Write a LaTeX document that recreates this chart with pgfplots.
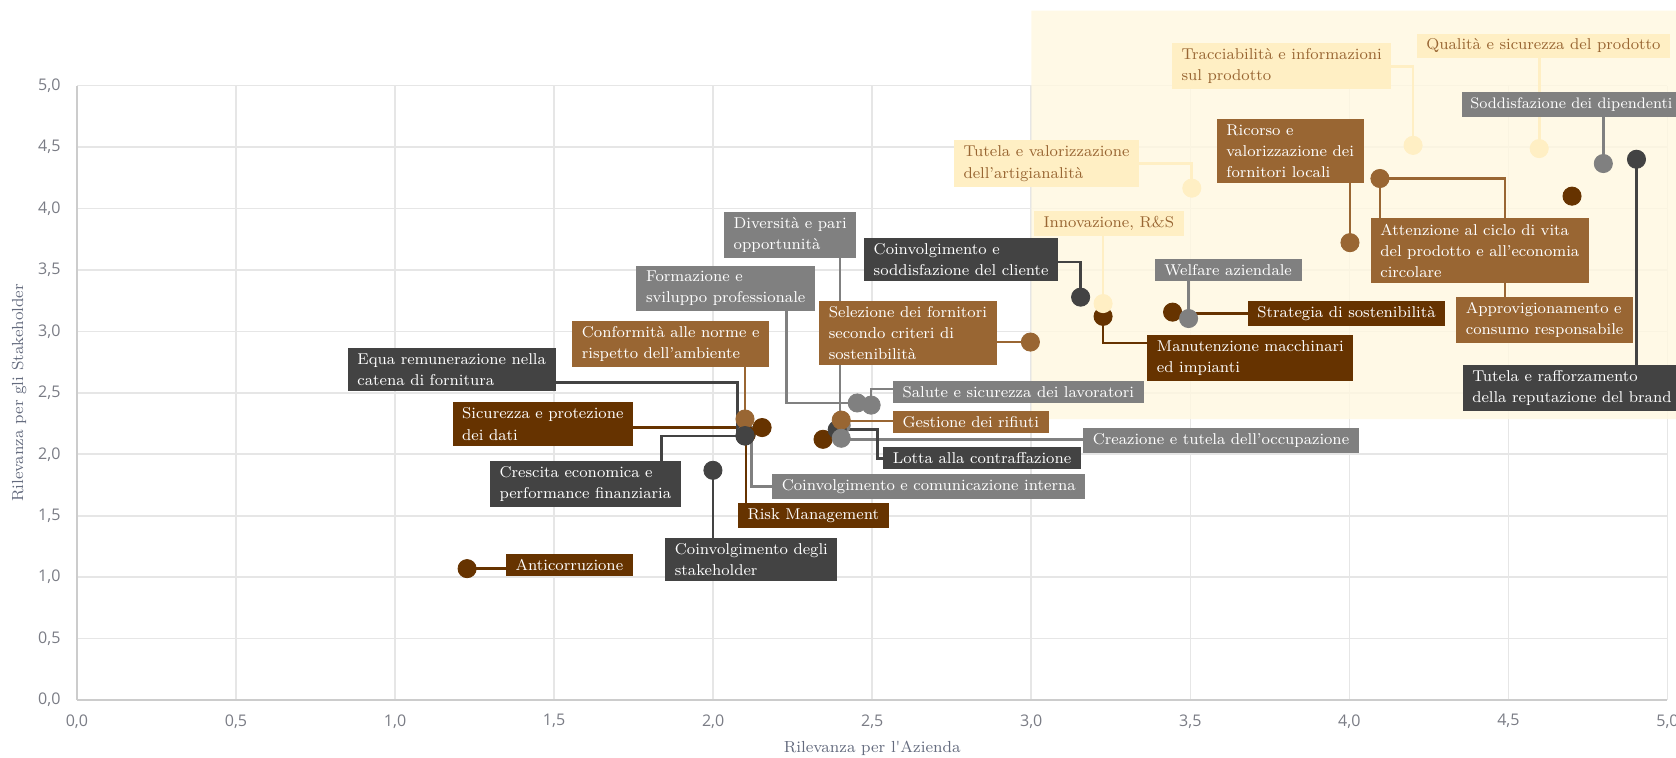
\documentclass[border=0pt]{standalone}
\usepackage{fontspec}
\newfontfamily\tickfont{Open Sans}
\newfontfamily\labfont{lmroman8-regular.otf}
\usepackage{pgfplots}
\pgfplotsset{compat=1.18}
\definecolor{dg}{HTML}{434343}
\definecolor{mg}{HTML}{808080}
\definecolor{br}{HTML}{996633}
\definecolor{db}{HTML}{663300}
\definecolor{cr}{HTML}{FFEFC4}
\definecolor{yl}{HTML}{FFF8E0}
\definecolor{gridc}{HTML}{E6E6E6}
\definecolor{axc}{HTML}{646B7E}
\definecolor{tickc}{HTML}{7A7C85}
\tikzset{lab/.style={anchor=north west, inner xsep=4.5pt, inner ysep=2.5pt, align=left,
  font=\labfont\fontsize{7.35}{10}\selectfont, text=white},
  clab/.style={lab, fill=cr, text=br}}
\newcommand{\conn}[2]{\addplot[#1, line width=1.25pt, no markers, forget plot] coordinates {#2};}
\begin{document}
\begin{tikzpicture}
\useasboundingbox (0,0) rectangle (784pt,354.5pt);
\begin{axis}[
  at={(36pt,27pt)}, anchor=south west,
  width=744pt, height=287.5pt, scale only axis,
  xmin=0, xmax=5, ymin=0, ymax=5,
  xtick={0,0.5,1,1.5,2,2.5,3,3.5,4,4.5,5},
  ytick={0,0.5,1,1.5,2,2.5,3,3.5,4,4.5,5},
  grid=major, major grid style={gridc, line width=0.75pt},
  axis x line*=bottom, axis y line*=left,
  axis line style={draw=gray!40, line width=0.8pt},
  major tick length=0pt,
  clip=false,
  ticklabel style={font=\tickfont\fontsize{7.5}{9}\selectfont, text=tickc},
  yticklabel style={anchor=east, inner sep=0pt, xshift=-7.5pt},
  xticklabel style={anchor=north, inner sep=0pt, yshift=-6.5pt},
  /pgf/number format/use comma,
  /pgf/number format/fixed,
  /pgf/number format/fixed zerofill,
  /pgf/number format/precision=1,
  /pgf/number format/assume math mode=true,
]
% highlighted region
\addplot[draw=none, fill=yl, fill opacity=0.8, forget plot] coordinates {(3,2.287) (5.03,2.287) (5.03,5.61) (3,5.61) (3,2.287)};

% connectors (start inside label boxes, which are drawn on top)
\conn{db}{(1.2265,1.0696) (1.40,1.0696)}
\conn{dg}{(1.9993,1.8696) (1.9993,1.25)}
\conn{dg}{(1.8380,1.90) (1.8380,2.1478) (2.1001,2.1478)}
\conn{db}{(1.60,2.2174) (2.1539,2.2174)}
\conn{dg}{(1.40,2.5826) (2.0766,2.5826) (2.0766,2.1478) (2.1001,2.1478)}
\conn{br}{(2.1001,2.80) (2.1001,2.287)}
\conn{mg}{(2.2312,3.30) (2.2312,2.4174) (2.4530,2.4174)}
\conn{mg}{(2.3992,3.70) (2.3992,2.2348)}
\conn{dg}{(3.00,3.5652) (3.1552,3.5652) (3.1552,3.2783)}
\conn{br}{(2.85,2.9130) (2.9973,2.9130)}
\conn{mg}{(2.62,2.5304) (2.4966,2.5304) (2.4966,2.4)}
\conn{br}{(2.4026,2.27) (2.62,2.27)}
\conn{mg}{(2.4026,2.1217) (3.22,2.1217)}
\conn{dg}{(2.58,1.9652) (2.5168,1.9652) (2.5168,2.2) (2.39,2.2)}
\conn{mg}{(2.24,1.7391) (2.1203,1.7391) (2.1203,2.17)}
\conn{db}{(2.1035,1.56) (2.1035,2.1739)}
\conn{cr}{(3.2258,3.88) (3.2258,3.2261)}
\conn{db}{(3.2258,3.1217) (3.2258,2.9043) (3.42,2.9043)}
\conn{mg}{(3.4946,3.45) (3.4946,3.1043)}
\conn{db}{(3.4442,3.1478) (3.75,3.1478)}
\conn{cr}{(3.20,4.3652) (3.5047,4.3652) (3.5047,4.1652)}
\conn{cr}{(4.00,5.1565) (4.2003,5.1565) (4.2003,4.5130)}
\conn{cr}{(4.5968,5.28) (4.5968,4.4870)}
\conn{br}{(4.0020,4.30) (4.0020,3.7217)}
\conn{br}{(4.0961,4.2435) (4.0961,3.85)}
\conn{br}{(4.0961,4.2435) (4.4892,4.2435) (4.4892,3.20)}
\conn{mg}{(4.7984,4.85) (4.7984,4.3652)}
\conn{dg}{(4.9026,4.4) (4.9026,2.62)}

% points (hidden ones first)
\addplot[only marks, mark=*, mark size=4.25pt, color=mg] coordinates {
(2.105,2.17) (2.4026,2.2348)};
\addplot[only marks, mark=*, mark size=4.25pt, color=db] coordinates {
(1.2265,1.0696) (2.1539,2.2174) (2.1035,2.16) (2.3454,2.1217) (3.2258,3.1217) (3.4442,3.1565) (4.70,4.10)};
\addplot[only marks, mark=*, mark size=4.25pt, color=dg] coordinates {
(1.9993,1.8696) (2.39,2.2) (3.1552,3.2783) (4.9026,4.4)};
\addplot[only marks, mark=*, mark size=4.25pt, color=br] coordinates {
(2.1001,2.287) (2.4026,2.278) (2.9973,2.9130) (4.0020,3.7217) (4.0961,4.2435)};
\addplot[only marks, mark=*, mark size=4.25pt, color=dg] coordinates {
(2.1001,2.1478) (2.1001,2.152)};
\addplot[only marks, mark=*, mark size=4.25pt, color=mg] coordinates {
(2.4530,2.4174) (2.4966,2.4) (2.4026,2.1304) (3.4946,3.1043) (4.7984,4.3652)};
\addplot[only marks, mark=*, mark size=4.25pt, color=cr] coordinates {
(3.2258,3.2261) (3.5047,4.1652) (4.2003,4.5130) (4.5968,4.4870)};

% labels
\node[lab, fill=db] at (axis cs:1.3474,1.1913) {Anticorruzione};
\node[lab, fill=dg] at (axis cs:1.8481,1.3217) {Coinvolgimento degli\\stakeholder};
\node[lab, fill=dg] at (axis cs:1.2970,1.9478) {Crescita economica e\\performance finanziaria};
\node[lab, fill=db] at (axis cs:1.1794,2.4261) {Sicurezza e protezione\\dei dati};
\node[lab, fill=dg] at (axis cs:0.8501,2.8696) {Equa remunerazione nella\\catena di fornitura};
\node[lab, fill=br] at (axis cs:1.5558,3.0870) {Conformità alle norme e\\rispetto dell’ambiente};
\node[lab, fill=mg] at (axis cs:1.7574,3.5391) {Formazione e\\sviluppo professionale};
\node[lab, fill=mg] at (axis cs:2.0329,3.9739) {Diversità e pari\\opportunità};
\node[lab, fill=dg] at (axis cs:2.4731,3.7652) {Coinvolgimento e\\soddisfazione del cliente};
\node[lab, fill=br] at (axis cs:2.3320,3.2522) {Selezione dei fornitori\\secondo criteri di\\sostenibilità};
\node[lab, fill=mg] at (axis cs:2.5638,2.6) {Salute e sicurezza dei lavoratori};
\node[lab, fill=br] at (axis cs:2.5638,2.3565) {Gestione dei rifiuti};
\node[lab, fill=mg] at (axis cs:3.1620,2.2174) {Creazione e tutela dell’occupazione};
\node[lab, fill=dg] at (axis cs:2.5336,2.0609) {Lotta alla contraffazione};
\node[lab, fill=mg] at (axis cs:2.1841,1.8435) {Coinvolgimento e comunicazione interna};
\node[lab, fill=db] at (axis cs:2.0766,1.6087) {Risk Management};
\node[clab] at (axis cs:3.0074,3.9826) {Innovazione, R\&S};
\node[clab] at (axis cs:2.7554,4.5565) {Tutela e valorizzazione\\dell’artigianalità};
\node[clab] at (axis cs:3.4409,5.3478) {Tracciabilità e informazioni\\sul prodotto};
\node[clab] at (axis cs:4.2104,5.4261) {Qualità e sicurezza del prodotto};
\node[lab, fill=br] at (axis cs:3.5820,4.7304) {Ricorso e\\valorizzazione dei\\fornitori locali};
\node[lab, fill=mg, font=\labfont\fontsize{7.15}{10}\selectfont, inner xsep=4pt] at (axis cs:4.352,4.9478) {Soddisfazione dei dipendenti};
\node[lab, fill=mg] at (axis cs:3.3871,3.5913) {Welfare aziendale};
\node[lab, fill=db] at (axis cs:3.6794,3.2522) {Strategia di sostenibilità};
\node[lab, fill=db] at (axis cs:3.3636,2.9739) {Manutenzione macchinari\\ed impianti};
\node[lab, fill=br] at (axis cs:4.0659,3.9217) {Attenzione al ciclo di vita\\del prodotto e all’economia\\circolare};
\node[lab, fill=br] at (axis cs:4.3347,3.2870) {Approvigionamento e\\consumo responsabile};
\node[lab, fill=dg] at (axis cs:4.3548,2.7304) {Tutela e rafforzamento\\della reputazione del brand};

% axis titles
\node[font=\labfont\fontsize{7.5}{9}\selectfont, text=axc, rotate=90] at (axis cs:-0.1815,2.5) {Rilevanza per gli Stakeholder};
\node[font=\labfont\fontsize{7.5}{9}\selectfont, text=axc] at (axis cs:2.5,-0.391) {Rilevanza per l'Azienda};
\end{axis}
\end{tikzpicture}
\end{document}
